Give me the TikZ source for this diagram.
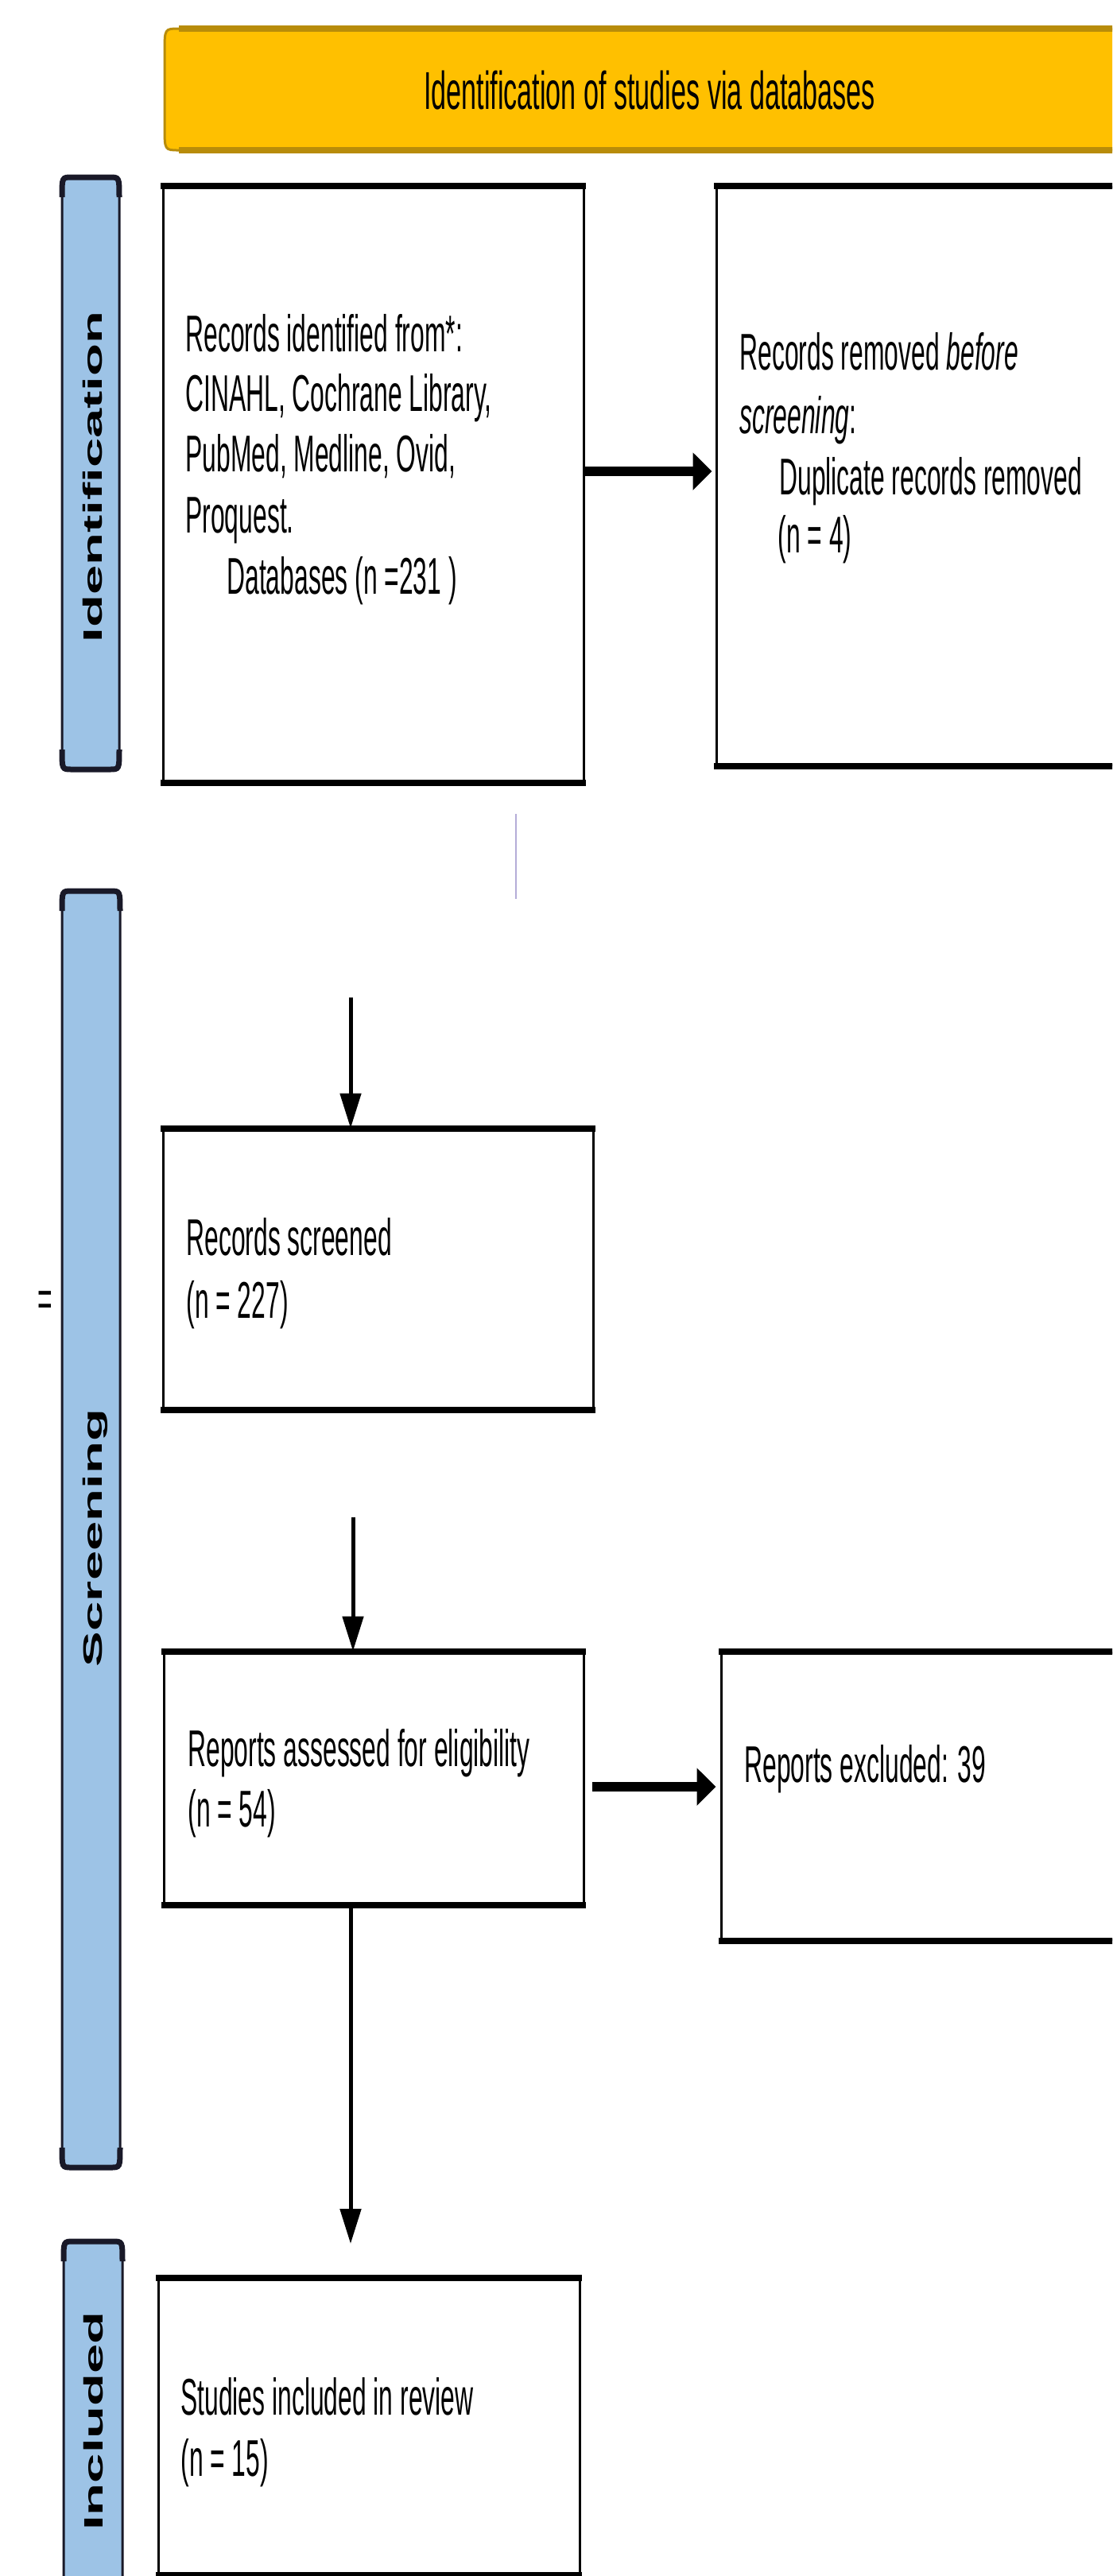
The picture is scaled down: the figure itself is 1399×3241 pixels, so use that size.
\documentclass[tikz,border=0pt]{standalone}
\usepackage{fontspec}
\usetikzlibrary{arrows.meta}
\newfontfamily\boxfont[FakeStretch=0.49]{Liberation Sans}
\newfontfamily\bannerfont[FakeStretch=0.51]{Liberation Sans}
\newfontfamily\sidefont{Liberation Sans}
\definecolor{barblue}{RGB}{157,195,230}
\definecolor{bargold}{RGB}{255,192,0}
\definecolor{goldedge}{RGB}{184,140,10}
\definecolor{baredge}{RGB}{25,25,40}
\definecolor{lilac}{RGB}{180,172,216}
\newcommand\mysidebar[4]{%
  \path[fill=barblue, draw=baredge, line width=1.5pt]
    (#1,{#2+25}) .. controls (#1,#2) .. ({#1+12},#2) -- ({#3-12},#2)
    .. controls (#3,#2) .. (#3,{#2+25}) -- (#3,{#4-25})
    .. controls (#3,#4) .. ({#3-12},#4) -- ({#1+12},#4)
    .. controls (#1,#4) .. (#1,{#4-25}) -- cycle;
  \draw[baredge, line width=3.5pt]
    (#1,{#2+25}) .. controls (#1,#2) .. ({#1+12},#2) -- ({#3-12},#2)
    .. controls (#3,#2) .. (#3,{#2+25});
  \draw[baredge, line width=3.5pt]
    (#3,{#4-25}) .. controls (#3,#4) .. ({#3-12},#4) -- ({#1+12},#4)
    .. controls (#1,#4) .. (#1,{#4-25});
}
\begin{document}
\begin{tikzpicture}[x=0.5pt,y=-0.5pt,
  boxshape/.style={draw=black, line width=1.5pt, fill=white, inner sep=0pt, rectangle},
  hedge/.style={line width=4pt, shorten <=-0.75pt, shorten >=-0.75pt},
  boxtext/.style={anchor=base west, inner sep=0pt, font=\boxfont\fontsize{32.5pt}{38pt}\selectfont},
  sidetext/.style={rotate=90, anchor=base, inner sep=0pt, font=\sidefont\bfseries\fontsize{33.5pt}{40pt}\selectfont},
  thickarrow/.style={line width=6pt, -{Triangle[length=12pt,width=23pt]}},
  thinarrow/.style={line width=2.5pt, -{Triangle[length=22pt,width=13pt]}}
]
\useasboundingbox (0,0) rectangle (1399,3241);
\clip (0,0) rectangle (1399,3241);
\fill[white] (0,0) rectangle (1399,3241);

% banner
\path[fill=bargold, draw=goldedge, line width=1.5pt]
  (1460,36) -- (225,36) .. controls (207,36) .. (207,66) -- (207,159)
  .. controls (207,189) .. (225,189) -- (1460,189);
\draw[goldedge, line width=4pt] (1460,36) -- (225,36);
\draw[goldedge, line width=4pt] (1460,189) -- (225,189);
\node[anchor=base, inner sep=0pt, font=\bannerfont\fontsize{33.5pt}{40pt}\selectfont] (bt) at (817,137) {Identification of studies via databases};

% side bars
\mysidebar{78}{223}{150}{968}
\mysidebar{78}{1121}{151}{2727}
\mysidebar{80}{2820}{154}{3330}
\node[sidetext] (lid) at (128,600) {\scalebox{1}[0.5]{Identification}};
\node[sidetext] (lsc) at (128,1935) {\scalebox{1}[0.5]{Screening}};
\node[sidetext] (lin) at (129,3046) {\scalebox{1}[0.5]{Included}};
\node[boxtext] (eq) at (47,1656) {=};

% boxes
\node[boxshape, minimum width=264.5pt, minimum height=374pt] (b1) at (469.5,609) {};
\node[boxshape, minimum width=274.5pt, minimum height=363.5pt] (b2) at (1175.5,598.5) {};
\node[boxshape, minimum width=270.5pt, minimum height=175.5pt] (b3) at (475.5,1596.5) {};
\node[boxshape, minimum width=264pt, minimum height=158pt] (b4) at (470,2237) {};
\node[boxshape, minimum width=271.5pt, minimum height=180.5pt] (bx) at (1178.5,2259.5) {};
\node[boxshape, minimum width=265pt, minimum height=185.5pt] (b5) at (464,3052.5) {};
\foreach \b in {b1,b2,b3,b4,bx,b5}{
  \draw[hedge] (\b.north west) -- (\b.north east);
  \draw[hedge] (\b.south west) -- (\b.south east);
}

% texts
\node[boxtext] (t1a) at (233,442) {Records identified from*:};
\node[boxtext] (t1b) at (233,517) {CINAHL, Cochrane Library,};
\node[boxtext] (t1c) at (233,593) {PubMed, Medline, Ovid,};
\node[boxtext] (t1d) at (233,670) {Proquest.};
\node[boxtext] (t1e) at (285,747) {Databases (n =231 )};
\node[boxtext] (t2a) at (930,465) {Records removed \textit{before}};
\node[boxtext] (t2b) at (930,545) {\textit{screening}:};
\node[boxtext] (t2c) at (980,622) {Duplicate records removed};
\node[boxtext] (t2d) at (978,695) {(n = 4)};
\node[boxtext] (t3a) at (234,1579) {Records screened};
\node[boxtext] (t3b) at (234,1658) {(n = 227)};
\node[boxtext] (t4a) at (236,2222) {Reports assessed for eligibility};
\node[boxtext] (t4b) at (236,2298) {(n = 54)};
\node[boxtext] (txa) at (936,2242) {Reports excluded: 39};
\node[boxtext] (t5a) at (227,3038) {Studies included in review};
\node[boxtext] (t5b) at (227,3115) {(n = 15)};

% connectors
\coordinate (c1) at (0,593);
\draw[thickarrow] (b1.east |- c1) -- ([xshift=-2pt]b2.west |- c1);
\coordinate (s2) at (441,1255);
\draw[thinarrow] (s2) -- (s2 |- b3.north);
\coordinate (s3) at (444,1909);
\draw[thinarrow] (s3) -- (s3 |- b4.north);
\coordinate (c4) at (0,2248);
\draw[thickarrow] ([xshift=4.5pt]b4.east |- c4) -- ([xshift=-2.5pt]bx.west |- c4);
\coordinate (e5) at (441,2823);
\draw[thinarrow] (b4.south -| e5) -- (e5);

% faint line
\coordinate (p1) at (649,1024);
\coordinate (p2) at (649,1131);
\draw[lilac, line width=0.6pt] (p1) -- (p2);
\end{tikzpicture}
\end{document}
